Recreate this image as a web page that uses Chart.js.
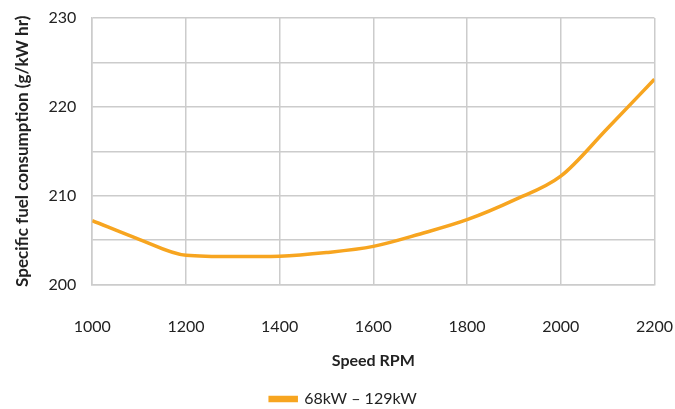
<!DOCTYPE html>
<html><head><meta charset="utf-8">
<script src="https://cdn.jsdelivr.net/npm/chart.js@4/dist/chart.umd.min.js"></script>
<style>html,body{margin:0;padding:0;background:#fff}#wrap{width:675px;height:409px}</style>
</head><body><div id="wrap"><canvas id="c"></canvas></div>
<script>
const rpm = [1000,1100,1200,1300,1400,1500,1600,1700,1800,1900,2000,2100,2200];
const sfc = [207.2,205.1,203.3,203.15,203.2,203.6,204.3,205.7,207.3,209.5,212.2,217.6,223.1];
const seriesName = '68kW \u2013 129kW';
const xTitle = 'Speed RPM';
const yTitle = 'Specific fuel consumption (g/kW hr)';
const FONT = 'Lato, "Open Sans", sans-serif';
const orange = '#F7A520';
const grid = '#cccccc';
new Chart(document.getElementById('c'), {
  type: 'line',
  data: { datasets: [{ label: seriesName, data: rpm.map((x,i)=>({x, y: sfc[i]})),
    borderColor: orange, backgroundColor: orange, borderWidth: 3.5, pointRadius: 0,
    cubicInterpolationMode: 'monotone' }] },
  options: {
    responsive: true, maintainAspectRatio: false, animation: false,
    layout: { padding: { left: 12, right: 0, top: 18, bottom: -8 } },
    plugins: {
      legend: { position: 'bottom', labels: { boxWidth: 26, boxHeight: 3, color: '#222', font: { family: FONT, size: 16 }, padding: 12 } },
      tooltip: { enabled: false }
    },
    scales: {
      x: { type: 'linear', min: 1000, max: 2200,
        ticks: { stepSize: 200, color: '#222', font: { family: FONT, size: 16 }, padding: 2, callback: v => String(v) },
        grid: { color: grid, lineWidth: 1.5, drawTicks: true, tickLength: 31, tickColor: 'rgba(0,0,0,0)' },
        border: { color: grid, width: 1.5 },
        title: { display: true, text: xTitle, color: '#222', font: { family: FONT, size: 16, weight: 'bold' }, padding: { top: 12, bottom: 9 } } },
      y: { min: 200, max: 230,
        ticks: { stepSize: 5, color: '#222', font: { family: FONT, size: 16 }, padding: 2,
          callback: v => (v % 10 === 0 ? String(v) : '') },
        grid: { color: grid, lineWidth: 1.5, drawTicks: true, tickLength: 14, tickColor: 'rgba(0,0,0,0)' },
        border: { color: grid, width: 1.5 },
        title: { display: true, text: yTitle, color: '#222', font: { family: FONT, size: 17, weight: 'bold' }, padding: { top: 0, bottom: 14 } } }
    }
  }
});
</script></body></html>
